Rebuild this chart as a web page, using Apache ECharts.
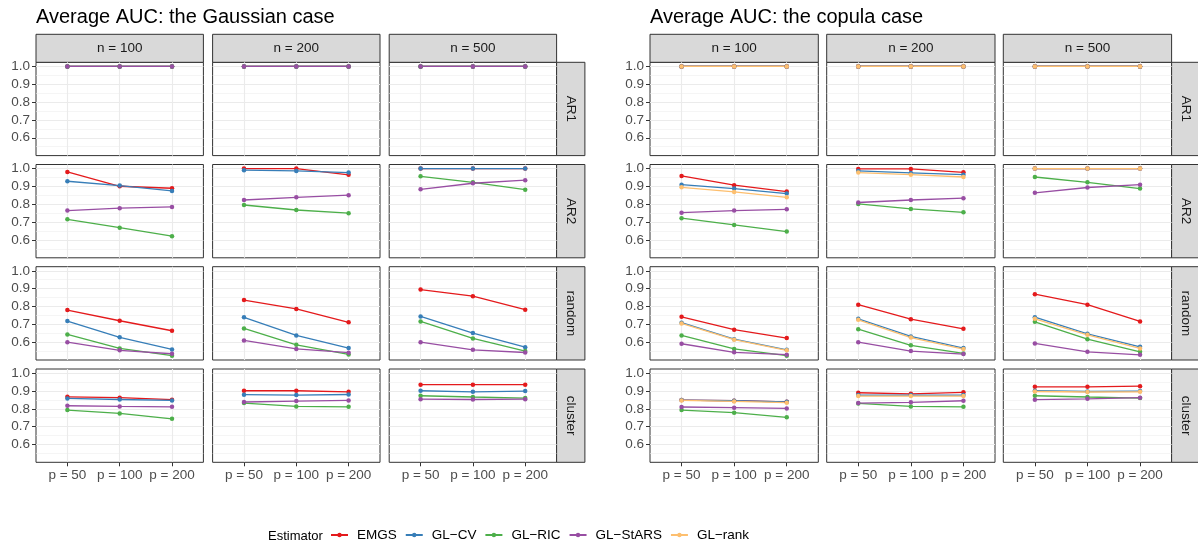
<!DOCTYPE html>
<html>
<head>
<meta charset="utf-8">
<script src="https://cdn.jsdelivr.net/npm/echarts@6/dist/echarts.min.js"></script>
<style>
  html, body { margin: 0; background: #fff; }
  #chart { width: 1198px; height: 546px; }
</style>
</head>
<body>
<div id="chart"></div>
<script>
// facets and labels
const structures = ['AR1', 'AR2', 'random', 'cluster'];
const nLabels = ['n = 100', 'n = 200', 'n = 500'];
const pLabels = ['p = 50', 'p = 100', 'p = 200'];
const estimators = ['EMGS', 'GL−CV', 'GL−RIC', 'GL−StARS', 'GL−rank'];
const colors = ['#E41A1C', '#377EB8', '#4DAF4A', '#984EA3', '#FDBF6F'];
const yTicks = [0.6, 0.7, 0.8, 0.9, 1.0];
const yMinor = [0.55, 0.65, 0.75, 0.85, 0.95];
const caseTitles = ['Average AUC: the Gaussian case', 'Average AUC: the copula case'];

// average AUC, [structure][n][p]
const gaussEMGS = [
  [[1, 1, 1], [1, 1, 1], [1, 1, 1]],
  [[0.981, 0.901, 0.890], [1.0, 1.0, 0.965], [1.0, 1.0, 1.0]],
  [[0.780, 0.720, 0.664], [0.836, 0.786, 0.711], [0.895, 0.858, 0.782]],
  [[0.867, 0.862, 0.851], [0.901, 0.901, 0.895], [0.935, 0.935, 0.935]]
];
const gaussCV = [
  [[1, 1, 1], [1, 1, 1], [1, 1, 1]],
  [[0.929, 0.905, 0.875], [0.991, 0.987, 0.978], [1.0, 1.0, 1.0]],
  [[0.718, 0.627, 0.559], [0.739, 0.638, 0.567], [0.744, 0.651, 0.572]],
  [[0.858, 0.852, 0.847], [0.879, 0.877, 0.880], [0.901, 0.895, 0.899]]
];
const gaussRIC = [
  [[1, 1, 1], [1, 1, 1], [1, 1, 1]],
  [[0.716, 0.669, 0.621], [0.796, 0.768, 0.750], [0.957, 0.923, 0.882]],
  [[0.643, 0.565, 0.524], [0.677, 0.585, 0.531], [0.716, 0.621, 0.550]],
  [[0.793, 0.774, 0.744], [0.832, 0.813, 0.811], [0.873, 0.866, 0.860]]
];
const gaussStARS = [
  [[1, 1, 1], [1, 1, 1], [1, 1, 1]],
  [[0.765, 0.778, 0.785], [0.824, 0.839, 0.851], [0.884, 0.918, 0.935]],
  [[0.600, 0.554, 0.535], [0.610, 0.562, 0.541], [0.600, 0.557, 0.542]],
  [[0.817, 0.813, 0.811], [0.838, 0.843, 0.847], [0.854, 0.852, 0.854]]
];
const copEMGS = [
  [[1, 1, 1], [1, 1, 1], [1, 1, 1]],
  [[0.959, 0.907, 0.871], [0.998, 0.998, 0.979], [1.0, 1.0, 1.0]],
  [[0.742, 0.670, 0.623], [0.810, 0.729, 0.675], [0.869, 0.810, 0.716]],
  [[0.849, 0.845, 0.839], [0.890, 0.884, 0.892], [0.923, 0.923, 0.927]]
];
const copCV = [
  [[1, 1, 1], [1, 1, 1], [1, 1, 1]],
  [[0.910, 0.888, 0.860], [0.987, 0.976, 0.966], [1.0, 1.0, 1.0]],
  [[0.709, 0.617, 0.557], [0.731, 0.632, 0.567], [0.740, 0.647, 0.574]],
  [[0.849, 0.845, 0.839], [0.877, 0.877, 0.877], [0.901, 0.897, 0.899]]
];
const copRIC = [
  [[1, 1, 1], [1, 1, 1], [1, 1, 1]],
  [[0.722, 0.684, 0.647], [0.802, 0.774, 0.755], [0.953, 0.923, 0.888]],
  [[0.638, 0.562, 0.524], [0.673, 0.582, 0.537], [0.714, 0.617, 0.546]],
  [[0.793, 0.778, 0.752], [0.830, 0.813, 0.811], [0.873, 0.866, 0.860]]
];
const copStARS = [
  [[1, 1, 1], [1, 1, 1], [1, 1, 1]],
  [[0.753, 0.765, 0.772], [0.810, 0.824, 0.834], [0.864, 0.894, 0.910]],
  [[0.591, 0.543, 0.530], [0.600, 0.550, 0.533], [0.593, 0.546, 0.529]],
  [[0.810, 0.806, 0.802], [0.832, 0.836, 0.845], [0.851, 0.856, 0.862]]
];
const copRank = [
  [[1, 1, 1], [1, 1, 1], [1, 1, 1]],
  [[0.895, 0.869, 0.839], [0.978, 0.966, 0.953], [1.0, 1.0, 1.0]],
  [[0.705, 0.614, 0.554], [0.725, 0.626, 0.561], [0.731, 0.641, 0.565]],
  [[0.847, 0.841, 0.834], [0.871, 0.871, 0.871], [0.897, 0.894, 0.895]]
];

const cases = [
  [gaussEMGS, gaussCV, gaussRIC, gaussStARS],
  [copEMGS, copCV, copRIC, copStARS, copRank]
];

// layout (px)
const colX = [[36, 212.6, 389.2], [650, 826.7, 1003.3]];
const panelW = [167.4, 168.3];
const rowY = [62.3, 164.5, 266.7, 369];
const panelH = 93.3;
const stripH = 28;
const stripW = 28.3;
const font = '"Liberation Sans", Arial, Helvetica, sans-serif';

const grids = [], xAxes = [], yAxes = [], series = [], graphics = [];

cases.forEach((est, c) => {
  graphics.push({
    type: 'text', left: colX[c][0], top: 7,
    style: { text: caseTitles[c], font: '20px ' + font, fill: '#000' }
  });
  nLabels.forEach((nl, j) => {
    graphics.push({
      type: 'rect',
      shape: { x: colX[c][j], y: rowY[0] - stripH, width: panelW[c], height: stripH },
      style: { fill: '#D9D9D9', stroke: '#333333', lineWidth: 1 }
    });
    graphics.push({
      type: 'text', x: colX[c][j] + panelW[c] / 2, y: rowY[0] - stripH / 2,
      style: { text: nl, font: '13.5px ' + font, fill: '#1A1A1A', align: 'center', verticalAlign: 'middle' }
    });
  });
  structures.forEach((s, r) => {
    const sx = colX[c][2] + panelW[c];
    graphics.push({
      type: 'rect',
      shape: { x: sx, y: rowY[r], width: stripW, height: panelH },
      style: { fill: '#D9D9D9', stroke: '#333333', lineWidth: 1 }
    });
    graphics.push({
      type: 'text', x: sx + stripW / 2, y: rowY[r] + panelH / 2, rotation: -Math.PI / 2,
      style: { text: s, font: '13.5px ' + font, fill: '#1A1A1A', align: 'center', verticalAlign: 'middle' }
    });

    for (let j = 0; j < 3; j++) {
      const gi = grids.length;
      grids.push({
        left: colX[c][j], top: rowY[r], width: panelW[c], height: panelH,
        show: true, borderColor: '#333333', borderWidth: 1, backgroundColor: '#fff'
      });
      const bottom = r === structures.length - 1;
      xAxes.push({
        gridIndex: gi, type: 'value', min: 0.4, max: 3.6,
        axisLine: { show: false },
        axisTick: { show: bottom, customValues: [1, 2, 3], length: 4, lineStyle: { color: '#333333' } },
        axisLabel: {
          show: bottom, customValues: [1, 2, 3], margin: 6,
          formatter: v => pLabels[Math.round(v) - 1],
          color: '#4D4D4D', fontSize: 13.5, fontFamily: font
        },
        splitLine: { show: true, lineStyle: { color: '#EBEBEB', width: 1.1 } }
      });
      const left = j === 0;
      yAxes.push({
        gridIndex: gi, type: 'value', min: 0.5, max: 1.023,
        axisLine: { show: false },
        axisTick: { show: left, customValues: yTicks, length: 4, lineStyle: { color: '#333333' } },
        axisLabel: {
          show: left, customValues: yTicks, margin: 6,
          formatter: v => v.toFixed(1),
          color: '#4D4D4D', fontSize: 13.5, fontFamily: font
        },
        splitLine: { show: true, lineStyle: { color: '#EBEBEB', width: 1.1 } }
      });
      yAxes.push({
        gridIndex: gi, type: 'value', min: 0.5, max: 1.023,
        axisLine: { show: false },
        axisTick: { show: false, customValues: yMinor },
        axisLabel: { show: false, customValues: yMinor },
        splitLine: { show: true, lineStyle: { color: '#EFEFEF', width: 0.6 } }
      });
      est.forEach((vals, e) => {
        series.push({
          name: estimators[e], type: 'line',
          xAxisIndex: gi, yAxisIndex: 2 * gi,
          data: vals[r][j].map((v, k) => [k + 1, v]),
          color: colors[e],
          lineStyle: { width: 1.3 },
          symbol: 'circle', symbolSize: 4.5, showSymbol: true,
          silent: true, animation: false
        });
      });
    }
  });
});

graphics.push({
  type: 'text', x: 268, y: 536,
  style: { text: 'Estimator', font: '13px ' + font, fill: '#000', verticalAlign: 'middle' }
});

const chart = echarts.init(document.getElementById('chart'), null, { renderer: 'canvas' });
chart.setOption({
  backgroundColor: '#fff',
  animation: false,
  grid: grids,
  xAxis: xAxes,
  yAxis: yAxes,
  series: series,
  graphic: graphics,
  legend: {
    data: estimators, left: 330, top: 528, padding: 0,
    itemWidth: 17, itemHeight: 5.5, itemGap: 8,
    textStyle: { fontSize: 13.5, fontFamily: font, color: '#000', padding: [0, 0, 0, 4] }
  }
});
</script>
</body>
</html>
